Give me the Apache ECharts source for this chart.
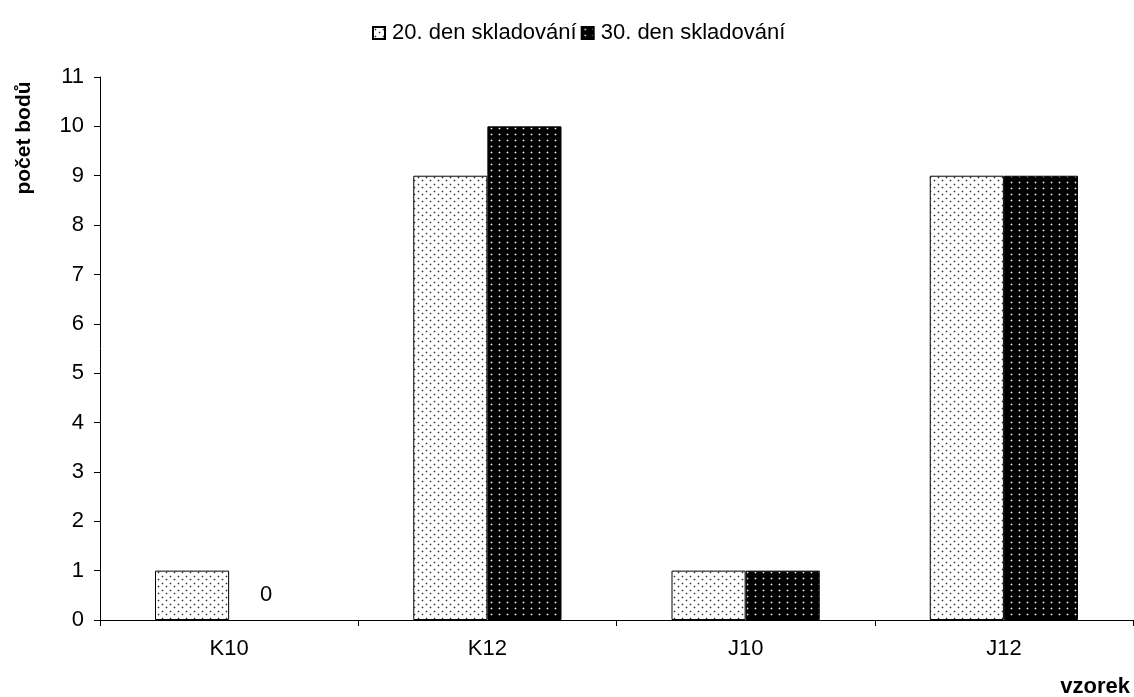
<!DOCTYPE html>
<html>
<head>
<meta charset="utf-8">
<script src="https://cdn.jsdelivr.net/npm/echarts@6/dist/echarts.min.js"></script>
<style>
  html, body { margin: 0; padding: 0; background: #fff; }
  #chart { width: 1134px; height: 697px; }
</style>
</head>
<body>
<div id="chart"></div>
<script>
// Samples and scores
const categories = ['K10', 'K12', 'J10', 'J12'];
const seriesNames = ['20. den skladování', '30. den skladování'];
const day20 = [1, 9, 1, 9];
const day30 = [0, 10, 1, 9];
const yTicks = [0, 1, 2, 3, 4, 5, 6, 7, 8, 9, 10, 11];

// Small tiled dot patterns for bar fills: each dot has a solid core and a soft rim
function dotPattern(bg, core, rim, w, h, centers) {
  const c = document.createElement('canvas');
  c.width = w; c.height = h;
  const ctx = c.getContext('2d');
  ctx.fillStyle = bg;
  ctx.fillRect(0, 0, w, h);
  centers.forEach(([x, y]) => {
    ctx.fillStyle = rim;
    ctx.fillRect(x - 1, y, 1, 1);
    ctx.fillRect(x + 1, y, 1, 1);
    ctx.fillRect(x, y - 1, 1, 1);
    ctx.fillRect(x, y + 1, 1, 1);
    ctx.fillStyle = core;
    ctx.fillRect(x, y, 1, 1);
  });
  return { image: c, repeat: 'repeat' };
}

const lightFill = dotPattern('#ffffff', '#303030', '#c4c4c4', 8, 7, [[2, 2], [6, 5]]);
const darkFill = dotPattern('#000000', '#e6e6e6', '#5a5a5a', 8, 6, [[3, 2]]);

const chart = echarts.init(document.getElementById('chart'));

const fontFamily = 'Liberation Sans, Arial, sans-serif';
const fs = 22;

chart.setOption({
  animation: false,
  backgroundColor: '#ffffff',
  textStyle: { fontFamily: fontFamily, color: '#000' },
  legend: {
    top: 22,
    left: 372,
    padding: 0,
    icon: 'rect',
    itemWidth: 12,
    itemHeight: 12,
    itemGap: 4,
    textStyle: { fontSize: fs, color: '#000', fontFamily: fontFamily, padding: [0, 0, 0, 2] },
    data: seriesNames
  },
  grid: { left: 100, right: 1, top: 77, bottom: 77, containLabel: false },
  xAxis: {
    type: 'category',
    data: categories,
    axisLine: { lineStyle: { color: '#000', width: 1 } },
    axisTick: { show: true, length: 6, lineStyle: { color: '#000' } },
    axisLabel: { fontSize: fs, color: '#000', margin: 18, fontFamily: fontFamily },
    splitLine: { show: false }
  },
  yAxis: {
    type: 'value',
    min: yTicks[0],
    max: yTicks[yTicks.length - 1],
    interval: 1,
    axisLine: { show: true, lineStyle: { color: '#000', width: 1 } },
    axisTick: { show: true, length: 6, lineStyle: { color: '#000' } },
    axisLabel: { fontSize: fs, color: '#000', margin: 16, fontFamily: fontFamily },
    splitLine: { show: false }
  },
  series: [
    {
      name: seriesNames[0],
      type: 'bar',
      data: day20,
      barGap: '0%',
      barCategoryGap: '42.6%',
      itemStyle: { color: lightFill, borderColor: '#000', borderWidth: 1 }
    },
    {
      name: seriesNames[1],
      type: 'bar',
      data: day30.map(v => v === 0
        ? {
            value: v,
            itemStyle: { borderWidth: 0 },
            label: { show: true, position: 'top', distance: 14, fontSize: fs, color: '#000', fontFamily: fontFamily }
          }
        : v),
      itemStyle: { color: darkFill, borderColor: '#000', borderWidth: 1 }
    }
  ],
  graphic: [
    {
      type: 'text',
      x: 24, y: 138,
      rotation: Math.PI / 2,
      style: {
        text: 'počet bodů',
        font: 'bold 21px ' + fontFamily,
        fill: '#000',
        align: 'center',
        verticalAlign: 'middle'
      }
    },
    {
      type: 'text',
      right: 4, top: 676,
      style: {
        text: 'vzorek',
        font: 'bold 22px ' + fontFamily,
        fill: '#000'
      }
    }
  ]
});
</script>
</body>
</html>
